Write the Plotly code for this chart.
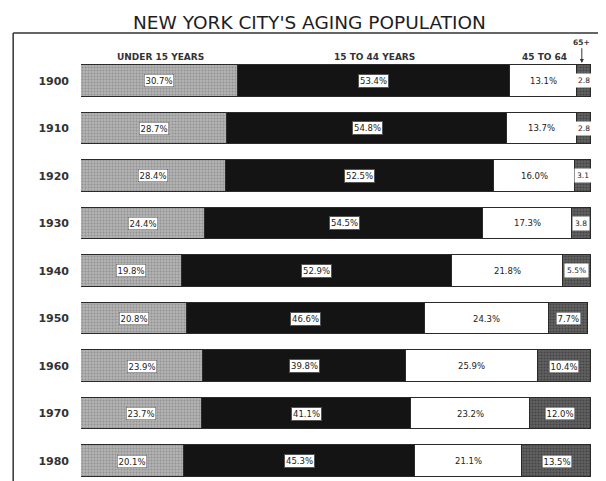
import plotly.graph_objects as go

years = ["1900", "1910", "1920", "1930", "1940", "1950", "1960", "1970", "1980"]
under15 = [30.7, 28.7, 28.4, 24.4, 19.8, 20.8, 23.9, 23.7, 20.1]
age15_44 = [53.4, 54.8, 52.5, 54.5, 52.9, 46.6, 39.8, 41.1, 45.3]
age45_64 = [13.1, 13.7, 16.0, 17.3, 21.8, 24.3, 25.9, 23.2, 21.1]
age65 = [2.8, 2.8, 3.1, 3.8, 5.5, 7.7, 10.4, 12.0, 13.5]
headers = ["UNDER 15 YEARS", "15 TO 44 YEARS", "45 TO 64", "65+"]
title = "NEW YORK CITY'S AGING POPULATION"

FONT = "DejaVu Sans"
idx = list(range(len(years)))
BW = 0.67
edge = dict(color="#2a2a2a", width=1)

fig = go.Figure()
fig.add_trace(go.Bar(y=idx, x=under15, orientation="h", width=BW, name=headers[0],
                     marker=dict(color="#a4a4a4", line=edge,
                                 pattern=dict(shape=".", fgcolor="#707070", bgcolor="#b4b4b4",
                                              size=3, solidity=0.4))))
fig.add_trace(go.Bar(y=idx, x=age15_44, orientation="h", width=BW, name=headers[1],
                     marker=dict(color="#141414", line=edge)))
fig.add_trace(go.Bar(y=idx, x=age45_64, orientation="h", width=BW, name=headers[2],
                     marker=dict(color="#ffffff", line=edge)))
fig.add_trace(go.Bar(y=idx, x=age65, orientation="h", width=BW, name=headers[3],
                     marker=dict(color="#484848", line=edge,
                                 pattern=dict(shape=".", fgcolor="#252525", bgcolor="#626262",
                                              size=3, solidity=0.4))))

lab_font = dict(family=FONT, size=8.5, color="#222222")
ann = []
for i in idx:
    a, b, c, d = under15[i], age15_44[i], age45_64[i], age65[i]
    ann.append(dict(x=a / 2, y=i, text=f"{a}%", showarrow=False, font=lab_font,
                    bgcolor="#ffffff", bordercolor="#555555", borderwidth=0.5, borderpad=1))
    ann.append(dict(x=a + b / 2, y=i, text=f"{b}%", showarrow=False, font=lab_font,
                    bgcolor="#ffffff", bordercolor="#555555", borderwidth=1, borderpad=1))
    ann.append(dict(x=a + b + c / 2, y=i, text=f"{c}%", showarrow=False, font=lab_font))
    t65 = f"{d}%" if d >= 5 else f"{d}"
    if d >= 7:
        ann.append(dict(x=a + b + c + d / 2, y=i, text=t65, showarrow=False, font=lab_font,
                        bgcolor="#ffffff", bordercolor="#555555", borderwidth=0.5, borderpad=1))
    else:
        ann.append(dict(x=a + b + c + d / 2, y=i, text=t65, showarrow=False,
                        font=dict(family=FONT, size=7.5, color="#222222"),
                        bgcolor="#ffffff", borderpad=2))

hdr_font = dict(family=FONT, size=9, color="#333333", weight="bold")
hy = -0.505
ann.append(dict(x=15.6, y=hy, text=headers[0], showarrow=False, font=hdr_font))
ann.append(dict(x=57.6, y=hy, text=headers[1], showarrow=False, font=hdr_font))
ann.append(dict(x=90.8, y=hy, text=headers[2], showarrow=False, font=hdr_font))
ann.append(dict(x=98.2, y=-0.38, ax=98.2, ay=-0.72, axref="x", ayref="y",
                text="", showarrow=True, arrowhead=2, arrowsize=0.8, arrowwidth=1,
                arrowcolor="#333333"))
ann.append(dict(x=98.2, y=-0.8, text=headers[3], showarrow=False,
                font=dict(family=FONT, size=7.5, color="#333333", weight="bold")))
ann.append(dict(xref="paper", yref="paper", x=0.449, y=1.031, text=title, showarrow=False,
                yanchor="middle", font=dict(family=FONT, size=18.5, color="#1e1e1e")))

fig.update_layout(
    width=606, height=481,
    margin=dict(l=73, r=23, t=28, b=8),
    paper_bgcolor="#ffffff", plot_bgcolor="#ffffff",
    barmode="stack", showlegend=False, bargap=0,
    annotations=ann,
    xaxis=dict(range=[0, 100], visible=False, fixedrange=True),
    yaxis=dict(range=[8.421, -0.947], tickvals=idx, ticktext=years, showgrid=False,
               zeroline=False, showline=False, ticks="", ticklabelstandoff=11,
               tickfont=dict(family=FONT, size=11, color="#333333", weight="bold")),
    shapes=[
        dict(type="line", xref="paper", yref="paper", x0=-0.133, x1=1.1, y0=1.0067, y1=1.0067,
             line=dict(color="#333333", width=1.5)),
        dict(type="line", xref="paper", yref="paper", x0=-0.133, x1=-0.133, y0=-0.05, y1=1.0067,
             line=dict(color="#333333", width=1.5)),
    ],
)

fig.write_html("out.html")
